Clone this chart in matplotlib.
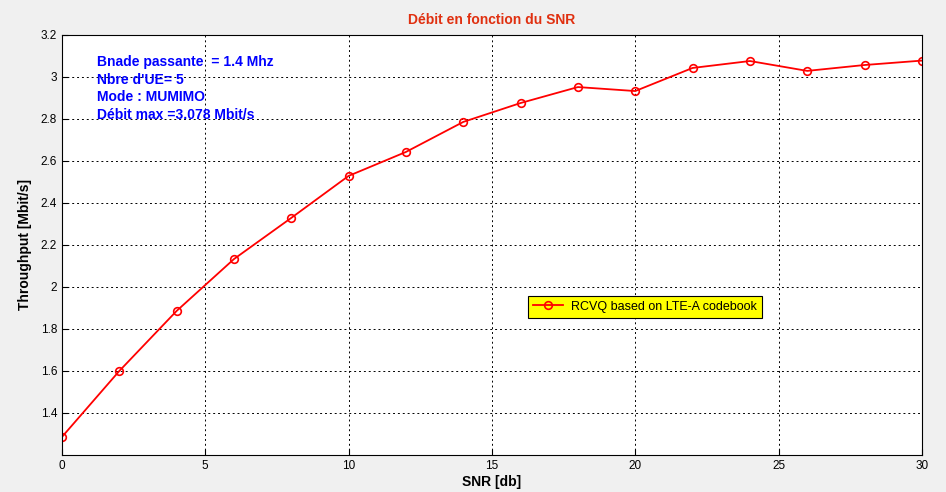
import numpy as np
import matplotlib.pyplot as plt

plt.rcParams['font.family'] = ['Liberation Sans', 'DejaVu Sans']

snr = [0, 2, 4, 6, 8, 10, 12, 14, 16, 18, 20, 22, 24, 26, 28, 30]
throughput = [1.286, 1.600, 1.886, 2.133, 2.329, 2.529, 2.643, 2.786,
              2.876, 2.952, 2.933, 3.043, 3.076, 3.029, 3.057, 3.078]
xticks = [0, 5, 10, 15, 20, 25, 30]
yticks = [1.4, 1.6, 1.8, 2, 2.2, 2.4, 2.6, 2.8, 3, 3.2]
ytick_labels = ['1.4', '1.6', '1.8', '2', '2.2', '2.4', '2.6', '2.8', '3', '3.2']

fig = plt.figure(figsize=(9.46, 4.92), dpi=100, facecolor='#f0f0f0')
ax = fig.add_axes([0.0655, 0.0752, 0.909, 0.8537])

ax.plot(snr, throughput, color='red', linewidth=1.3, marker='o',
        markersize=5.5, markerfacecolor='none', markeredgecolor='red',
        markeredgewidth=1.2, label='RCVQ based on LTE-A codebook')

ax.set_xlim(0, 30)
ax.set_ylim(1.2, 3.2)
ax.set_xticks(xticks)
ax.set_yticks(yticks)
ax.set_yticklabels(ytick_labels)
ax.tick_params(labelsize=8.5, direction='in', length=4)
ax.grid(True, color='black', linestyle=(0, (2, 3)), linewidth=0.7)
for s in ax.spines.values():
    s.set_linewidth(0.8)

ax.set_xlabel('SNR [db]', fontsize=10, fontweight='bold', labelpad=2)
ax.set_ylabel('Throughput [Mbit/s]', fontsize=10, fontweight='bold', labelpad=6)
ax.set_title('Débit en fonction du SNR', color='#e03010', fontsize=10,
             fontweight='bold', pad=8)

info = ['Bnade passante  = 1.4 Mhz', "Nbre d'UE= 5", 'Mode : MUMIMO',
        'Débit max =3.078 Mbit/s']
ax.text(0.041, 0.952, '\n'.join(info), transform=ax.transAxes, color='blue',
        fontsize=10, fontweight='bold', va='top', linespacing=1.32)

leg = ax.legend(loc='center left', bbox_to_anchor=(0.535, 0.353), fontsize=9,
                facecolor='yellow', edgecolor='black', framealpha=1,
                fancybox=False, borderpad=0.4, handlelength=2.4,
                handletextpad=0.6)
leg.get_frame().set_linewidth(0.8)

fig.savefig('out.png', dpi=100, facecolor=fig.get_facecolor())
